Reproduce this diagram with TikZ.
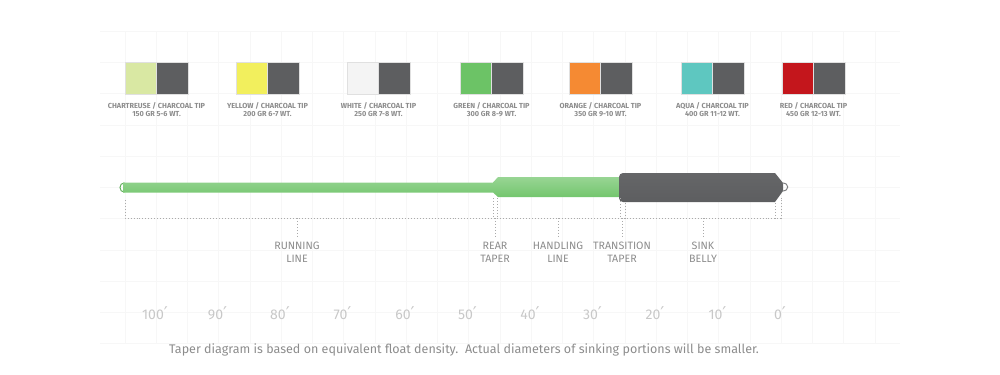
\documentclass[tikz,border=0pt]{standalone}
\usepackage{fontspec}
\setmainfont{Fira Sans}
\newfontfamily\primefont{DejaVu Sans}
\usepackage{xcolor}
\usetikzlibrary{positioning}

\definecolor{charcoal}{HTML}{5D5E60}
\definecolor{chartreuse}{HTML}{D9E8A3}
\definecolor{lineyellow}{HTML}{F2EF5D}
\definecolor{linewhite}{HTML}{F4F4F4}
\definecolor{linegreen}{HTML}{6CC366}
\definecolor{lineorange}{HTML}{F58A33}
\definecolor{lineaqua}{HTML}{5EC7C0}
\definecolor{linered}{HTML}{C4161C}
\definecolor{txtgray}{HTML}{8C8C8C}
\definecolor{scalegray}{HTML}{C8C8C8}
\definecolor{gridgray}{HTML}{F7F7F7}
\definecolor{dotgray}{HTML}{AAAAAA}

\begin{document}
\begin{tikzpicture}[
  x=0.025cm, y=-0.025cm,
  swatch/.style={draw=black!12, line width=0.3pt, minimum width=0.7875cm, minimum height=0.8cm, inner sep=0pt, outer sep=0pt},
  swlabel/.style={text=txtgray, font=\fontsize{5.2}{6.2}\selectfont\bfseries, align=center, inner sep=0pt},
  partlabel/.style={text=txtgray, font=\fontsize{7.6}{9}\selectfont, align=center, inner sep=0pt},
  scalelabel/.style={text=scalegray, font=\fontsize{10}{12}\selectfont, inner sep=0pt},
  guide/.style={dotgray, line width=0.5pt, dash pattern=on 0.7pt off 1.4pt},
]
\useasboundingbox (0,0) rectangle (1000,375);

% background grid
\foreach \k in {0,...,24}
  \draw[gridgray, line width=0.4pt] (125+31.25*\k,31) -- (125+31.25*\k,343);
\foreach \j in {0,...,10}
  \draw[gridgray, line width=0.4pt] (100,31.25+31.25*\j) -- (900,31.25+31.25*\j);

% colour swatches
\node[swatch, fill=chartreuse, anchor=north west] (c1) at (125,62) {};
\node[swatch, fill=charcoal, right=0pt of c1] (t1) {};
\node[swatch, fill=lineyellow, anchor=north west] (c2) at (236,62) {};
\node[swatch, fill=charcoal, right=0pt of c2] (t2) {};
\node[swatch, fill=linewhite, anchor=north west] (c3) at (347,62) {};
\node[swatch, fill=charcoal, right=0pt of c3] (t3) {};
\node[swatch, fill=linegreen, anchor=north west] (c4) at (460,62) {};
\node[swatch, fill=charcoal, right=0pt of c4] (t4) {};
\node[swatch, fill=lineorange, anchor=north west] (c5) at (569,62) {};
\node[swatch, fill=charcoal, right=0pt of c5] (t5) {};
\node[swatch, fill=lineaqua, anchor=north west] (c6) at (681,62) {};
\node[swatch, fill=charcoal, right=0pt of c6] (t6) {};
\node[swatch, fill=linered, anchor=north west] (c7) at (782,62) {};
\node[swatch, fill=charcoal, right=0pt of c7] (t7) {};

\node[swlabel, anchor=north] (l1) at (c1.south east) [yshift=-0.2cm] {CHARTREUSE / CHARCOAL TIP\\150 GR 5-6 WT.};
\node[swlabel, anchor=north] (l2) at (c2.south east) [yshift=-0.2cm] {YELLOW / CHARCOAL TIP\\200 GR 6-7 WT.};
\node[swlabel, anchor=north] (l3) at (c3.south east) [yshift=-0.2cm] {WHITE / CHARCOAL TIP\\250 GR 7-8 WT.};
\node[swlabel, anchor=north] (l4) at (c4.south east) [yshift=-0.2cm] {GREEN / CHARCOAL TIP\\300 GR 8-9 WT.};
\node[swlabel, anchor=north] (l5) at (c5.south east) [yshift=-0.2cm] {ORANGE / CHARCOAL TIP\\350 GR 9-10 WT.};
\node[swlabel, anchor=north] (l6) at (c6.south east) [yshift=-0.2cm] {AQUA / CHARCOAL TIP\\400 GR 11-12 WT.};
\node[swlabel, anchor=north] (l7) at (c7.south east) [yshift=-0.2cm] {RED / CHARCOAL TIP\\450 GR 12-13 WT.};

% the fly line
\draw[linegreen!90!black, line width=0.7pt] (124.5,182.8) .. controls (118.5,182.8) and (118.5,192.2) .. (124.5,192.2);
\shade[top color=linegreen!70, middle color=linegreen!55, bottom color=linegreen!95]
  (123,182.5) -- (493,182.5) -- (498,177) -- (621,177) -- (621,197) -- (498,197) -- (493,192.5) -- (123,192.5) -- cycle;
\shade[top color=charcoal!95, middle color=charcoal!72, bottom color=charcoal]
  (623,173) -- (775,173) -- (783,183) -- (783,191) -- (775,202) -- (623,202)
  to[out=180, in=270] (619,198) -- (619,177) to[out=90, in=180] cycle;
\draw[charcoal!80, line width=0.7pt] (782.5,183) .. controls (789.5,183) and (789.5,191) .. (782.5,191);

% guides
\coordinate (g0) at (125,200);
\coordinate (g1) at (493,198);
\coordinate (g2) at (497,198);
\coordinate (g3) at (620,198);
\coordinate (g4) at (625,203);
\coordinate (g5) at (775,203);
\coordinate (g6) at (781,198);
\draw[guide] (g0) -- (125,218) -- (781,218) -- (g6);
\foreach \g in {g1,g2,g3,g4,g5}
  \draw[guide] (\g) -- (\g |- 0,218);

\node[partlabel, anchor=north] (run) at (297,242) {RUNNING\\LINE};
\node[partlabel, anchor=north] (rear) at (495,242) {REAR\\TAPER};
\node[partlabel, anchor=north] (hand) at (558,242) {HANDLING\\LINE};
\node[partlabel, anchor=north] (trans) at (622,242) {TRANSITION\\TAPER};
\node[partlabel, anchor=north] (sink) at (703,242) {SINK\\BELLY};
\foreach \p in {run,rear,hand,trans,sink}
  \draw[guide] (\p.north |- 0,218) -- ([yshift=3pt]\p.north);

% distance scale
\foreach \d [count=\i from 0] in {100,90,80,70,60,50,40,30,20,10,0}
  \node[scalelabel] (s\d) at (155+62.5*\i,313) {\d{\primefont\fontsize{12.5}{12}\selectfont ′}};

\node[text=txtgray, font=\fontsize{8.9}{10}\selectfont, inner sep=0pt] (note) at (464,350)
  {Taper diagram is based on equivalent float density.\ \ Actual diameters of sinking portions will be smaller.};
\end{tikzpicture}
\end{document}
